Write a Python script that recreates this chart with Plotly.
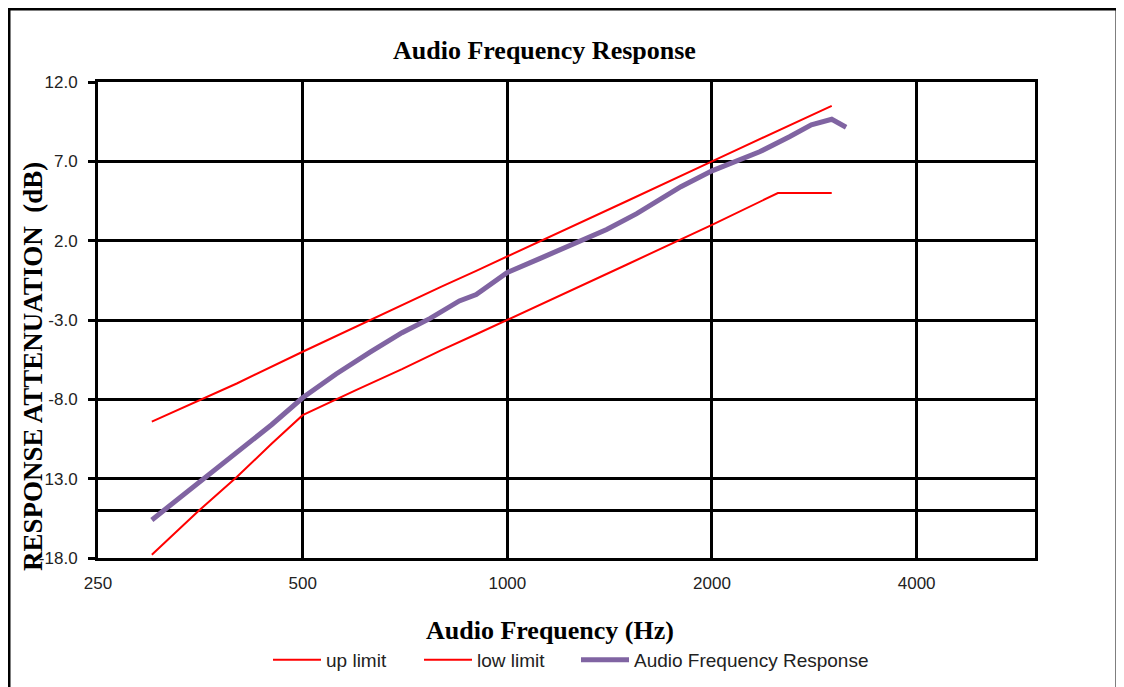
import math
import plotly.graph_objects as go

# ---- data ----
freq_up = [300, 400, 500, 600, 700, 800, 900, 1000, 1250, 1500, 2000, 2500, 3000]
up_limit = [-9.4, -7.0, -5.0, -3.4, -2.1, -0.9, 0.1, 1.0, 2.9, 4.5, 7.0, 8.9, 10.5]

freq_low = [300, 350, 400, 450, 500, 600, 700, 800, 900, 1000, 1250, 1500, 2000, 2500, 3000]
low_limit = [-17.8, -15.1, -12.9, -10.8, -9.0, -7.4, -6.1, -4.9, -3.9, -3.0, -1.1, 0.5, 3.0, 5.0, 5.0]

freq_resp = [300, 350, 400, 450, 500, 560, 630, 700, 770, 850, 900, 950, 1000, 1120, 1250,
             1400, 1550, 1700, 1800, 2000, 2200, 2350, 2600, 2800, 3000, 3150]
response = [-15.6, -13.3, -11.3, -9.6, -7.9, -6.4, -5.0, -3.8, -2.9, -1.8, -1.4, -0.7, 0.0, 0.9, 1.8,
            2.7, 3.7, 4.8, 5.4, 6.4, 7.1, 7.6, 8.55, 9.3, 9.65, 9.15]

x_ticks = [250, 500, 1000, 2000, 4000]
x_tick_labels = ["250", "500", "1000", "2000", "4000"]
y_ticks = [12, 7, 2, -3, -8, -13, -18]
y_tick_labels = ["12.0", "7.0", "2.0", "-3.0", "-8.0", "13.0", "-18.0"]
ref_lines = [-15]

x_min, x_max = 250, 5972
y_min, y_max = -18, 12

RED = "#FF0000"
PURPLE = "#8064A2"

fig = go.Figure()
fig.add_trace(go.Scatter(x=freq_up, y=up_limit, mode="lines", name="up limit",
                         line=dict(color=RED, width=2), legend="legend"))
fig.add_trace(go.Scatter(x=freq_low, y=low_limit, mode="lines", name="low limit",
                         line=dict(color=RED, width=2), legend="legend2"))
fig.add_trace(go.Scatter(x=freq_resp, y=response, mode="lines", name="Audio Frequency Response",
                         line=dict(color=PURPLE, width=5), legend="legend3"))

for v in ref_lines:
    fig.add_shape(type="line", xref="paper", yref="y", x0=0, x1=1, y0=v, y1=v,
                  line=dict(color="black", width=3), layer="below")

# page body has an 8px margin: window coordinates -> figure coordinates
OFF = 8
W, H = 1124, 687
L, T = 98 - OFF, 82 - OFF          # plot left / top in figure px
PR, PB = 1035 - OFF, 558 - OFF     # plot right / bottom in figure px
R, B = W - PR, H - PB
pw, ph = PR - L, PB - T

def px(x):
    return (x - OFF - L) / pw

def py(y):
    return (PB - (y - OFF)) / ph

fig.add_shape(type="rect", xref="paper", yref="paper",
              x0=px(9), x1=px(1117), y0=py(9), y1=py(720),
              line=dict(color="black", width=3), fillcolor="rgba(0,0,0,0)")

serif = "Liberation Serif"
fig.add_annotation(text="<b>Audio Frequency Response</b>", xref="paper", yref="paper",
                   x=px(544), y=py(50), xanchor="center", yanchor="middle", showarrow=False,
                   font=dict(family=serif, size=26, color="black"))
fig.add_annotation(text="<b>Audio Frequency (Hz)</b>", xref="paper", yref="paper",
                   x=px(550), y=py(630), xanchor="center", yanchor="middle", showarrow=False,
                   font=dict(family=serif, size=26, color="black"))
fig.add_annotation(text="<b>RESPONSE ATTENUATION  (dB)</b>", xref="paper", yref="paper",
                   x=px(33), y=py(367), xanchor="center", yanchor="middle", showarrow=False,
                   textangle=-90,
                   font=dict(family=serif, size=27, color="black"))

leg_font = dict(family="Liberation Sans", size=19, color="#222")
def leg(xpos):
    return dict(orientation="h", x=px(xpos), xanchor="left", y=py(660), yanchor="middle",
                itemwidth=48, font=leg_font, bgcolor="rgba(0,0,0,0)")

fig.update_layout(
    width=W, height=H,
    margin=dict(l=L, r=R, t=T, b=B, pad=0),
    paper_bgcolor="white", plot_bgcolor="white",
    showlegend=True,
    legend=leg(268),
    legend2=leg(419),
    legend3=leg(576),
    xaxis=dict(type="log", range=[math.log10(x_min), math.log10(x_max)],
               tickvals=x_ticks, ticktext=x_tick_labels,
               showgrid=True, gridcolor="black", gridwidth=3,
               showline=True, linecolor="black", linewidth=3, mirror=True,
               ticks="", ticklabelstandoff=8,
               tickfont=dict(family="Liberation Sans", size=17, color="#222"),
               zeroline=False),
    yaxis=dict(range=[y_min, y_max], tickvals=y_ticks, ticktext=y_tick_labels,
               showgrid=True, gridcolor="black", gridwidth=3,
               showline=True, linecolor="black", linewidth=3, mirror=True,
               ticks="outside", ticklen=7, tickwidth=3, tickcolor="black",
               ticklabelstandoff=7,
               tickfont=dict(family="Liberation Sans", size=17, color="#222"),
               zeroline=False),
)

fig.write_html("out.html")
